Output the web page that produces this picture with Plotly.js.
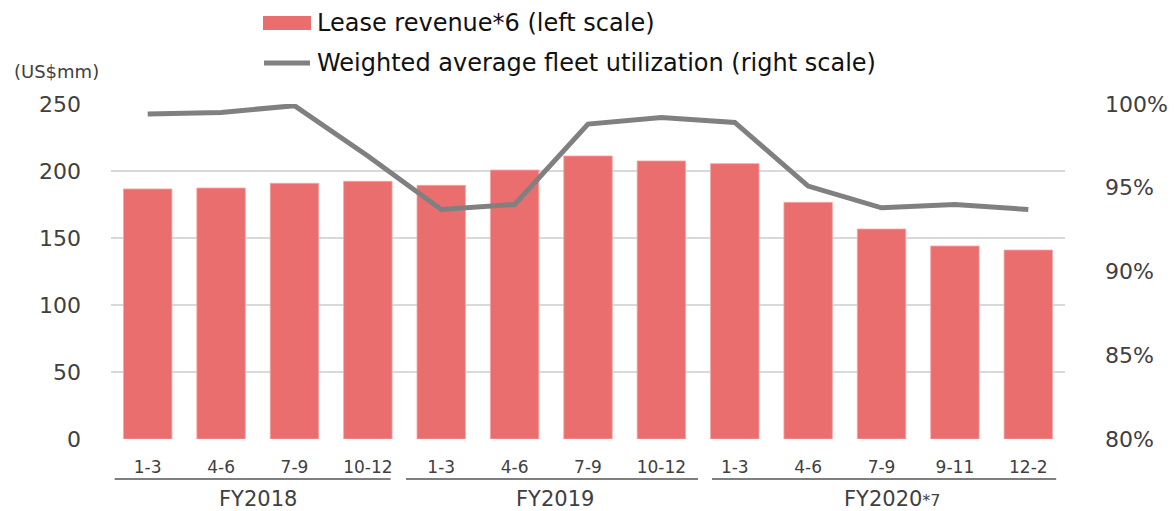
<!DOCTYPE html>
<html>
<head>
<meta charset="utf-8">
<script src="https://cdn.plot.ly/plotly-3.0.1.min.js"></script>
<style>
  html, body { margin: 0; padding: 0; background: #ffffff; }
  #chart { width: 1174px; height: 511px; }
</style>
</head>
<body>
<div id="chart"></div>
<script>
// ---- Data ----
const periods = ['1-3', '4-6', '7-9', '10-12', '1-3', '4-6', '7-9', '10-12', '1-3', '4-6', '7-9', '9-11', '12-2'];
const fiscalYears = ['FY2018', 'FY2019', 'FY2020<span style="font-size:16px">*7</span>'];
const leaseRevenue = [186.6, 187.3, 190.8, 192.3, 189.3, 200.7, 211.2, 207.5, 205.5, 176.6, 156.7, 144, 141];
const utilization = [99.4, 99.5, 99.9, 96.9, 93.7, 94.0, 98.8, 99.2, 98.9, 95.1, 93.8, 94.0, 93.7];
const seriesNames = ['Lease revenue*6 (left scale)', 'Weighted average fleet utilization (right scale)'];
const leftUnit = '(US$mm)';

// ---- Styling ----
const FONT = 'DejaVu Sans, Verdana, sans-serif';
const BAR_COLOR = '#EB6E6E';
const LINE_COLOR = '#808080';
const TEXT_GREY = '#404040';
const GRID = '#d9d9d9';

const W = 1174, H = 511;
const M = { l: 111, r: 109, t: 104, b: 72 };
const plotW = W - M.l - M.r, plotH = H - M.t - M.b;
const px = x => (x - M.l) / plotW;          // pixel -> paper x
const py = y => (H - M.b - y) / plotH;      // pixel -> paper y

const idx = periods.map((_, i) => i);

const traces = [
  {
    type: 'bar', x: idx, y: leaseRevenue, name: seriesNames[0],
    marker: { color: BAR_COLOR, line: { color: '#f4a5a5', width: 0.8 } },
    yaxis: 'y', hoverinfo: 'x+y'
  },
  {
    type: 'scatter', mode: 'lines', x: idx, y: utilization, name: seriesNames[1],
    line: { color: LINE_COLOR, width: 5, shape: 'linear' },
    yaxis: 'y2'
  }
];

const groupLineExt = [[-0.45, 3.31], [3.52, 7.5], [7.69, 12.38]];
const groupLabelX = [1.5, 5.55, 10.15];

const shapes = [];
const annotations = [];
fiscalYears.forEach((fy, g) => {
  shapes.push({
    type: 'line', xref: 'x', yref: 'paper',
    x0: groupLineExt[g][0], x1: groupLineExt[g][1],
    y0: py(479), y1: py(479),
    line: { color: '#7f7f7f', width: 2 }
  });
  annotations.push({
    xref: 'x', yref: 'paper', x: groupLabelX[g], y: py(499),
    text: fy, showarrow: false, xanchor: 'center', yanchor: 'middle',
    font: { family: FONT, size: 21, color: TEXT_GREY }
  });
});

// Legend (drawn manually to match reference)
shapes.push({
  type: 'rect', xref: 'paper', yref: 'paper',
  x0: px(263), x1: px(311), y0: py(30), y1: py(16),
  fillcolor: BAR_COLOR, line: { width: 0 }
});
shapes.push({
  type: 'line', xref: 'paper', yref: 'paper',
  x0: px(264), x1: px(310), y0: py(63), y1: py(63),
  line: { color: LINE_COLOR, width: 5 }
});
annotations.push({
  xref: 'paper', yref: 'paper', x: px(315), y: py(23),
  text: seriesNames[0], showarrow: false, xanchor: 'left', yanchor: 'middle',
  font: { family: FONT, size: 24, color: '#111111' }
});
annotations.push({
  xref: 'paper', yref: 'paper', x: px(315), y: py(63),
  text: seriesNames[1], showarrow: false, xanchor: 'left', yanchor: 'middle',
  font: { family: FONT, size: 24, color: '#111111' }
});
annotations.push({
  xref: 'paper', yref: 'paper', x: px(12), y: py(71),
  text: leftUnit, showarrow: false, xanchor: 'left', yanchor: 'middle',
  font: { family: FONT, size: 18, color: TEXT_GREY }
});

const layout = {
  width: W, height: H,
  margin: M,
  paper_bgcolor: '#ffffff', plot_bgcolor: '#ffffff',
  showlegend: false,
  bargap: 0.34,
  font: { family: FONT, color: TEXT_GREY },
  xaxis: {
    range: [-0.5, periods.length - 0.5],
    tickmode: 'array', tickvals: idx, ticktext: periods,
    tickfont: { family: FONT, size: 17, color: TEXT_GREY },
    showgrid: false, zeroline: false, showline: false, ticks: '',
    ticklabelstandoff: 16, fixedrange: true
  },
  yaxis: {
    range: [0, 250], dtick: 50, tick0: 0,
    showgrid: true, gridcolor: GRID, gridwidth: 1.5,
    zeroline: false, showline: false, ticks: '',
    tickfont: { family: FONT, size: 22, color: TEXT_GREY },
    ticklabelstandoff: 29
  },
  yaxis2: {
    range: [80, 100], dtick: 5, tick0: 80,
    overlaying: 'y', side: 'right',
    ticksuffix: '%',
    showgrid: false, zeroline: false, showline: false, ticks: '',
    tickfont: { family: FONT, size: 22, color: TEXT_GREY },
    ticklabelstandoff: 39
  },
  shapes: shapes,
  annotations: annotations
};

Plotly.newPlot('chart', traces, layout, { displayModeBar: false, staticPlot: true });
</script>
</body>
</html>
